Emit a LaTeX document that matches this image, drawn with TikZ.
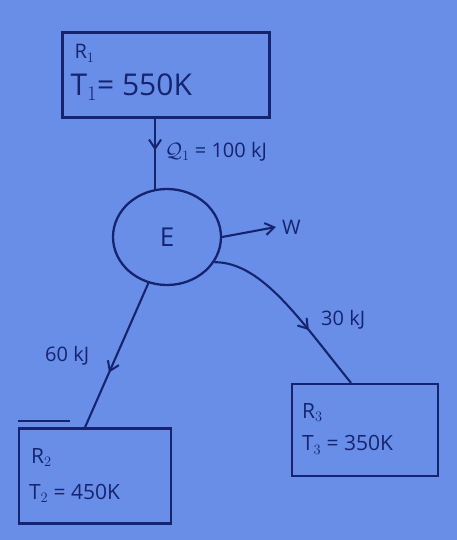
\documentclass[tikz,border=0pt]{standalone}
\usepackage{fontspec}
\setmainfont{Open Sans}
\usetikzlibrary{arrows.meta,decorations.markings,shapes.geometric,calc}
\definecolor{bg}{RGB}{104,142,232}
\definecolor{ink}{RGB}{22,36,112}
\tikzset{
  res/.style={draw=ink, line width=2.3pt, inner sep=0pt},
  txt/.style={text=ink, inner sep=1pt, anchor=west},
  lbl/.style={text=ink, font=\fontsize{20}{24}\selectfont, inner sep=1pt, anchor=west},
  flow/.style={draw=ink, line width=2.1pt,
    postaction={decorate, decoration={markings,
      mark=at position #1 with {\arrow{Straight Barb[length=9pt,width=12pt,line width=2pt]}}}}},
  flow/.default=0.5
}
\begin{document}
\begin{tikzpicture}[x=1pt,y=-1pt]
\fill[bg] (0,0) rectangle (457,540);
\useasboundingbox (0,0) rectangle (457,540);
% reservoirs
\node[res, minimum width=207pt, minimum height=85pt] (R1) at (166,75) {};
\node[txt, font=\fontsize{20}{24}\selectfont] (r1n) at ($(R1.north west)+(12,22)$) {R$_1$};
\node[txt, font=\fontsize{30}{34}\selectfont] (r1t) at ($(R1.north west)+(8,56)$) {T$_1$= 550K};
\node[res, minimum width=152pt, minimum height=95pt] (R2) at (95,476) {};
\node[txt, font=\fontsize{21}{24}\selectfont] (r2n) at ($(R2.north west)+(12,30)$) {R$_2$};
\node[txt, font=\fontsize{21}{24}\selectfont] (r2t) at ($(R2.north west)+(10,66)$) {T$_2$ = 450K};
\node[res, minimum width=146pt, minimum height=92pt] (R3) at (365,430) {};
\node[txt, font=\fontsize{21}{24}\selectfont] (r3n) at ($(R3.north west)+(10,30)$) {R$_3$};
\node[txt, font=\fontsize{21}{24}\selectfont] (r3t) at ($(R3.north west)+(10,62)$) {T$_3$ = 350K};
% engine
\node[ellipse, draw=ink, line width=2.3pt, minimum width=108pt, minimum height=96pt,
  text=ink, font=\fontsize{26}{30}\selectfont] (E) at (167,237) {E};
% work output end
\coordinate (wend) at (276,227);
% connectors
\draw[flow=0.45] (R1.south -| E.104) -- (E.104);
\draw[draw=ink, line width=2.1pt, -{Straight Barb[length=9pt,width=12pt,line width=2pt]}] (E.east) -- (wend);
\draw[flow=0.64] (E.-28) .. controls (262,262) and (300,320) .. ($(R3.north)+(-14,0)$);
\draw[flow=0.62] (E.-112) -- ($(R2.north)+(-10,0)$);
\draw[draw=ink, line width=2.1pt] ($(R2.north west)+(0,-6)$) -- ($(R2.north west)+(52,-6)$);
% labels
\node[lbl] (q1) at (164,152) {$\mathcal{Q}_1$ = 100 kJ};
\node[lbl] (w) at (281,227) {W};
\node[lbl] (q3) at (320,320) {30 kJ};
\node[lbl] (q2) at (44,356) {60 kJ};
\end{tikzpicture}
\end{document}
